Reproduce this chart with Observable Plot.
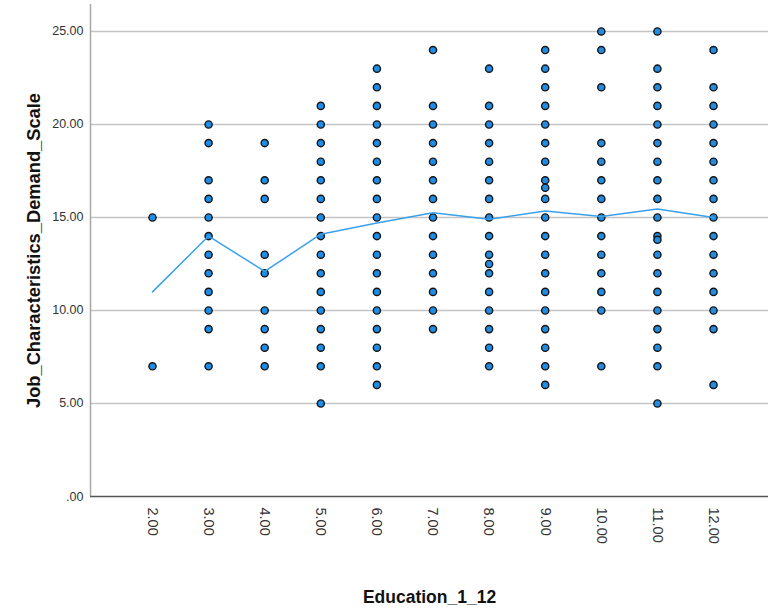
<!DOCTYPE html>
<html>
<head>
<meta charset="utf-8">
<script src="https://cdn.jsdelivr.net/npm/d3@7"></script>
<script src="https://cdn.jsdelivr.net/npm/@observablehq/plot@0.6"></script>
<style>
  html, body { margin: 0; padding: 0; background: #fff; }
  #chart svg { display: block; font-family: "Liberation Sans", Arial, sans-serif; }
  g[aria-label="x-axis label"] text { font-size: 17.5px; font-weight: bold; fill: #111; }
  g[aria-label="y-axis label"] text { font-size: 18.3px; font-weight: bold; fill: #111; }
  g[aria-label="x-axis tick label"] text, g[aria-label="y-axis tick label"] text { fill: #333; }
</style>
</head>
<body>
<div id="chart"></div>
<script>
// Education levels (x categories)
const educationLevels = [2, 3, 4, 5, 6, 7, 8, 9, 10, 11, 12];

// Observed Job_Characteristics_Demand_Scale values per education level
const edu2  = [15, 7];
const edu3  = [20, 19, 17, 16, 15, 14, 13, 12, 11, 10, 9, 7];
const edu4  = [19, 17, 16, 13, 12, 10, 9, 8, 7];
const edu5  = [21, 20, 19, 18, 17, 16, 15, 14, 13, 12, 11, 10, 9, 8, 7, 5];
const edu6  = [23, 22, 21, 20, 19, 18, 17, 16, 15, 14, 13, 12, 11, 10, 9, 8, 7, 6];
const edu7  = [24, 21, 20, 19, 18, 17, 16, 15, 14, 13, 12, 11, 10, 9];
const edu8  = [23, 21, 20, 19, 18, 17, 16, 15, 14, 13, 12.5, 12, 11, 10, 9, 8, 7];
const edu9  = [24, 23, 22, 21, 20, 19, 18, 17, 16.6, 16, 15, 14, 13, 12, 11, 10, 9, 8, 7, 6];
const edu10 = [25, 24, 22, 19, 18, 17, 16, 15, 14, 13, 12, 11, 10, 7];
const edu11 = [25, 23, 22, 21, 20, 19, 18, 17, 16, 15, 14, 13.8, 13, 12, 11, 10, 9, 8, 7, 5];
const edu12 = [24, 22, 21, 20, 19, 18, 17, 16, 15, 14, 13, 12, 11, 10, 9, 6];

// Mean line values per education level
const meanValues = [11.0, 14.0, 12.1, 14.1, 14.7, 15.25, 14.9, 15.35, 15.05, 15.45, 15.0];

// Axis ticks
const yTicks = [0, 5, 10, 15, 20, 25];
const gridTicks = [5, 10, 15, 20, 25];

const seriesByLevel = [edu2, edu3, edu4, edu5, edu6, edu7, edu8, edu9, edu10, edu11, edu12];
const points = educationLevels.flatMap((e, i) => seriesByLevel[i].map(v => ({edu: e, value: v})));
const means = educationLevels.map((e, i) => ({edu: e, value: meanValues[i]}));

const fmt = d => d === 0 ? ".00" : d.toFixed(2);

const chart = Plot.plot({
  width: 768,
  height: 616,
  marginLeft: 90,
  marginRight: 0,
  marginTop: 4,
  marginBottom: 120,
  style: {fontFamily: "'Liberation Sans', Arial, sans-serif", fontSize: "12px", background: "#fff"},
  x: {domain: [0.895, 12.98], ticks: educationLevels, tickFormat: fmt, label: "Education_1_12"},
  y: {domain: [0, 26.45], ticks: yTicks, tickFormat: fmt, label: "Job_Characteristics_Demand_Scale"},
  marks: [
    Plot.gridY(gridTicks, {stroke: "#c4c4c4", strokeOpacity: 1, strokeWidth: 1.4}),
    Plot.axisY({ticks: yTicks, tickFormat: fmt, tickSize: 0, tickPadding: 7, fontSize: 12.5,
      label: "Job_Characteristics_Demand_Scale", labelAnchor: "center", labelOffset: 64, labelArrow: "none"}),
    Plot.axisX({ticks: educationLevels, tickFormat: fmt, tickSize: 0, tickPadding: 11, tickRotate: 90, fontSize: 14.5,
      label: "Education_1_12", labelAnchor: "center", labelOffset: 106, labelArrow: "none"}),
    Plot.ruleX([0.895], {stroke: "#a8a8a8", strokeWidth: 1.5}),
    Plot.ruleY([0], {stroke: "#555", strokeWidth: 1.6}),
    Plot.dot(points, {x: "edu", y: "value", r: 3.6, fill: "#1f8ce6", stroke: "#151515", strokeWidth: 1.4}),
    Plot.line(means, {x: "edu", y: "value", stroke: "#3aa0ec", strokeWidth: 1.5})
  ]
});
document.getElementById("chart").appendChild(chart);
</script>
</body>
</html>
